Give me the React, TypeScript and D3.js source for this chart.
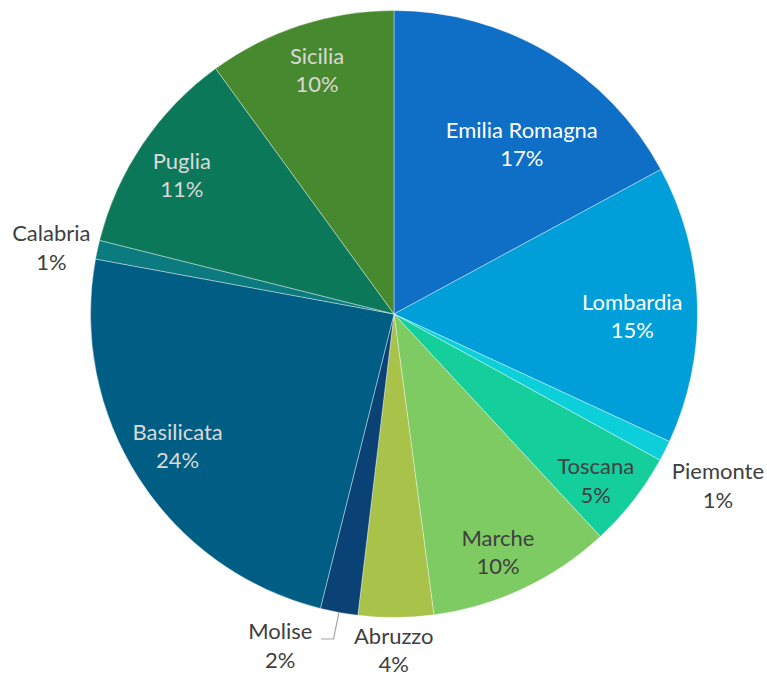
import * as d3 from 'd3';

const regions = [
    'Emilia Romagna',
    'Lombardia',
    'Piemonte',
    'Toscana',
    'Marche',
    'Abruzzo',
    'Molise',
    'Basilicata',
    'Calabria',
    'Puglia',
    'Sicilia',
];
const shares = [17.1, 14.8, 1.1, 5.1, 9.8, 4.0, 2.0, 24.0, 1.0, 11.1, 10.0];
const percentLabels = ['17%', '15%', '1%', '5%', '10%', '4%', '2%', '24%', '1%', '11%', '10%'];

const sliceColors = [
    '#0f6ec6',
    '#009fd9',
    '#0dcfda',
    '#14cf9b',
    '#7dcb62',
    '#a9c24a',
    '#0b4276',
    '#005e84',
    '#0c7b80',
    '#0c785a',
    '#47892f',
];
const labelColors = [
    '#ffffff',
    '#ffffff',
    '#404040',
    '#404040',
    '#404040',
    '#404040',
    '#404040',
    '#d9d9d9',
    '#404040',
    '#d9d9d9',
    '#d9d9d9',
];
// label placement: radius as a share of the pie radius, plus a small angle nudge (degrees)
const labelRadius = [0.7, 0.785, 1.208, 0.862, 0.856, 1.108, 1.155, 0.835, 1.15, 0.836, 0.843];
const labelNudge = [6.2, 2.3, 1.1, 1.6, 1.6, 0.4, 8.5, 1.4, -1.3, -0.8, 0.5];

const width = 767;
const height = 677;
const cx = 394;
const cy = 314;
const radius = 303.5;

type Datum = { name: string; value: number; pct: string; i: number };

export default function App() {
    const data: Datum[] = regions.map((name, i) => ({ name, value: shares[i], pct: percentLabels[i], i }));
    const pie = d3.pie<Datum>().value((d) => d.value).sort(null);
    const arcs = pie(data);
    const arc = d3.arc<d3.PieArcDatum<Datum>>().innerRadius(0).outerRadius(radius);

    const polar = (angle: number, r: number): [number, number] => [
        r * Math.sin(angle),
        -r * Math.cos(angle),
    ];

    return (
        <svg
            width={width}
            height={height}
            style={{ position: 'absolute', left: 0, top: 0, background: '#fff' }}
            fontFamily="Lato, 'Open Sans', sans-serif"
        >
            <g transform={`translate(${cx},${cy})`}>
                {arcs.map((a) => (
                    <path
                        key={a.data.name}
                        d={arc(a) ?? ''}
                        fill={sliceColors[a.data.i]}
                        stroke="#ffffff"
                        strokeOpacity={0.5}
                        strokeWidth={0.75}
                    />
                ))}
                {arcs.map((a) => {
                    const i = a.data.i;
                    const mid = (a.startAngle + a.endAngle) / 2;
                    const [lx, ly] = polar(mid + (labelNudge[i] * Math.PI) / 180, labelRadius[i] * radius);
                    return (
                        <g key={`l-${a.data.name}`} fill={labelColors[i]} fontSize={22} textAnchor="middle">
                            <text x={lx} y={ly - 6.3}>
                                {a.data.name}
                            </text>
                            <text x={lx} y={ly + 22}>
                                {a.data.pct}
                            </text>
                        </g>
                    );
                })}
                {arcs
                    .filter((a) => a.data.name === 'Molise')
                    .map((a) => {
                        const mid = (a.startAngle + a.endAngle) / 2;
                        const [sx, sy] = polar(mid, radius);
                        const bend: [number, number] = [sx - 5.5, sy + 26.5];
                        const end: [number, number] = [bend[0] - 12.5, bend[1]];
                        return (
                            <path
                                key="leader"
                                d={`M${sx},${sy}L${bend[0]},${bend[1]}L${end[0]},${end[1]}`}
                                fill="none"
                                stroke="#a6a6a6"
                                strokeWidth={1.2}
                            />
                        );
                    })}
            </g>
        </svg>
    );
}
